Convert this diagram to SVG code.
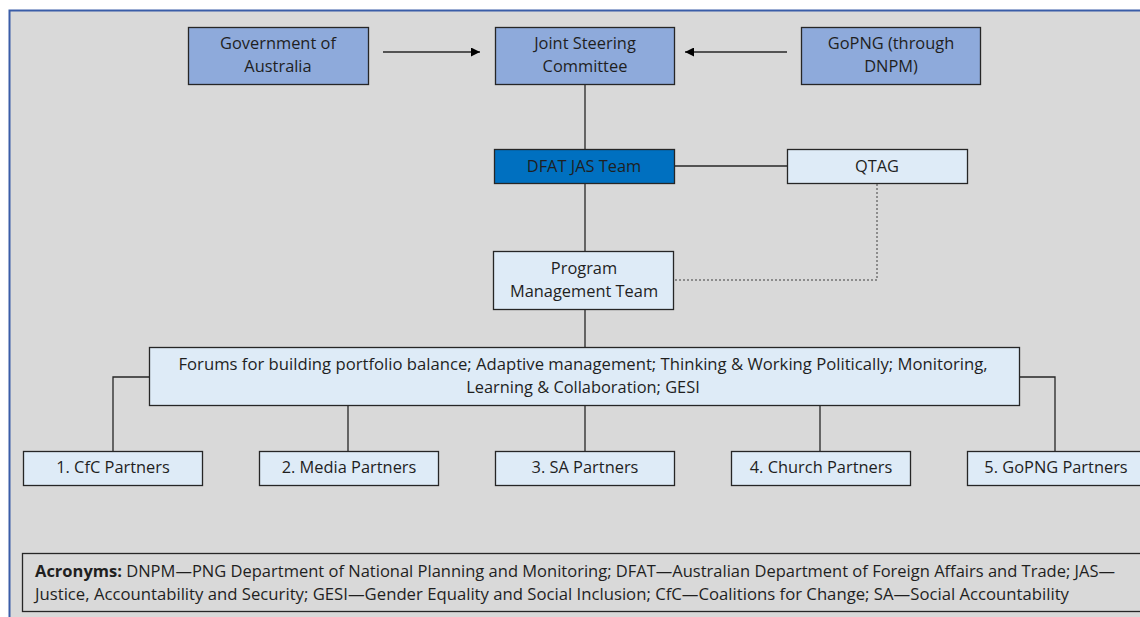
<svg xmlns="http://www.w3.org/2000/svg" width="1140" height="617" viewBox="0 0 1140 617">
<style>
text{font-family:"Open Sans","Lato","Liberation Sans",sans-serif;font-size:16.4px;fill:#1f1f1f;text-anchor:middle}
.b{stroke:#262626;stroke-width:1.3}
.mid{fill:#8eaadb}
.lt{fill:#deebf7}
.dk{fill:#0070c0}
.c{stroke:#262626;stroke-width:1.3;fill:none}
.d{stroke:#8c8c8c;stroke-width:2;stroke-dasharray:2 2;fill:none}
</style>
<defs>
<marker id="ah" viewBox="0 0 10 10" refX="10" refY="5" markerWidth="9" markerHeight="9" markerUnits="userSpaceOnUse" orient="auto"><path d="M0,0 L10,5 L0,10 Z" fill="#000"/></marker>
</defs>
<rect x="0" y="0" width="1140" height="617" fill="#fff"/>
<rect x="9.5" y="10.5" width="1140" height="620" fill="#d9d9d9" stroke="#3a5da8" stroke-width="2"/>
<g id="connectors">
<line class="c" x1="383" y1="52" x2="480" y2="52" marker-end="url(#ah)"/>
<line class="c" x1="787" y1="52" x2="685" y2="52" marker-end="url(#ah)"/>
<line class="c" x1="585" y1="84" x2="585" y2="149"/>
<line class="c" x1="674" y1="166" x2="787" y2="166"/>
<line class="c" x1="585" y1="183" x2="585" y2="251"/>
<polyline class="d" points="877,184 877,280 674,280"/>
<line class="c" x1="585" y1="309" x2="585" y2="347"/>
<polyline class="c" points="149,377 113,377 113,451"/>
<line class="c" x1="348" y1="405" x2="348" y2="451"/>
<line class="c" x1="585" y1="405" x2="585" y2="451"/>
<line class="c" x1="820" y1="405" x2="820" y2="451"/>
<polyline class="c" points="1019,377 1055,377 1055,451"/>
</g>
<g id="gov-australia"><rect class="b mid" x="188.5" y="27.5" width="180" height="57"/><text x="278" y="49">Government of</text><text x="278" y="72">Australia</text></g>
<g id="jsc"><rect class="b mid" x="495.5" y="27.5" width="179" height="57"/><text x="585" y="49">Joint Steering</text><text x="585" y="72">Committee</text></g>
<g id="gopng"><rect class="b mid" x="801.5" y="27.5" width="179" height="57"/><text x="891" y="49">GoPNG (through</text><text x="891" y="72">DNPM)</text></g>
<g id="dfat"><rect class="b dk" x="494.5" y="149.5" width="180" height="34"/><text x="584" y="172">DFAT JAS Team</text></g>
<g id="qtag"><rect class="b lt" x="787.5" y="149.5" width="180" height="34"/><text x="877" y="172">QTAG</text></g>
<g id="pmt"><rect class="b lt" x="493.5" y="251.5" width="180" height="58"/><text x="584" y="274">Program</text><text x="584" y="297">Management Team</text></g>
<g id="forums"><rect class="b lt" x="149.5" y="347.5" width="870" height="58"/><text x="583" y="370" textLength="809" lengthAdjust="spacingAndGlyphs">Forums for building portfolio balance; Adaptive management; Thinking &amp; Working Politically; Monitoring,</text><text x="583" y="393">Learning &amp; Collaboration; GESI</text></g>
<g id="p1"><rect class="b lt" x="23.5" y="451.5" width="179" height="34"/><text x="113" y="473">1. CfC Partners</text></g>
<g id="p2"><rect class="b lt" x="259.5" y="451.5" width="179" height="34"/><text x="349" y="473">2. Media Partners</text></g>
<g id="p3"><rect class="b lt" x="495.5" y="451.5" width="179" height="34"/><text x="585" y="473">3. SA Partners</text></g>
<g id="p4"><rect class="b lt" x="731.5" y="451.5" width="179" height="34"/><text x="821" y="473">4. Church Partners</text></g>
<g id="p5"><rect class="b lt" x="967.5" y="451.5" width="190" height="34"/><text x="1056" y="473">5. GoPNG Partners</text></g>
<g id="acronyms"><rect class="b" x="22.5" y="553.5" width="1130" height="58" fill="#d9d9d9"/>
<text x="35" y="577" style="text-anchor:start" textLength="1080" lengthAdjust="spacingAndGlyphs"><tspan font-weight="bold">Acronyms:</tspan> DNPM—PNG Department of National Planning and Monitoring; DFAT—Australian Department of Foreign Affairs and Trade; JAS—</text>
<text x="35" y="600" style="text-anchor:start" textLength="1034" lengthAdjust="spacingAndGlyphs">Justice, Accountability and Security; GESI—Gender Equality and Social Inclusion; CfC—Coalitions for Change; SA—Social Accountability</text></g>
</svg>
